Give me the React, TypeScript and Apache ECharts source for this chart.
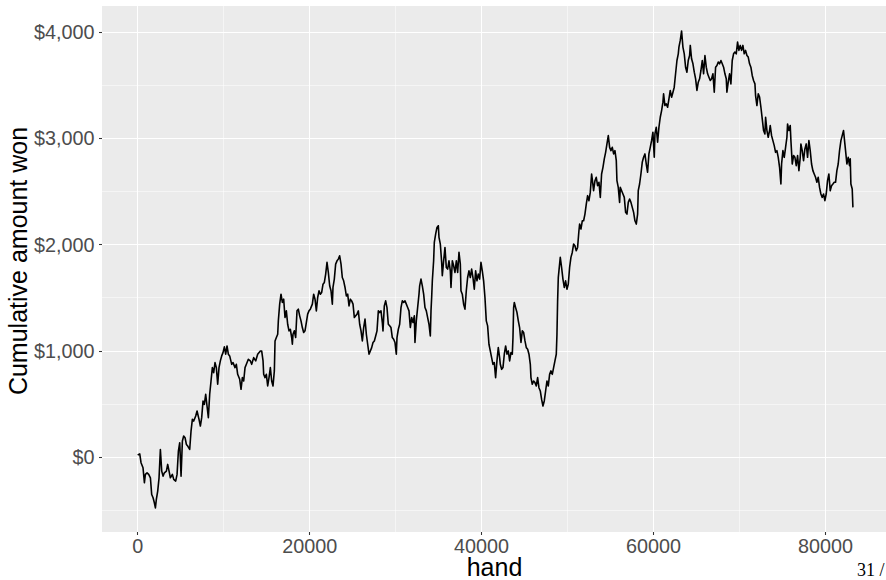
import React, { useEffect, useRef } from 'react';
import * as echarts from 'echarts';

// [hand, cumulative amount won], segment by segment
const seg1 = [[0,20],[240,30],[390,-53],[620,-100],[780,-242],[895,-163],[1090,-148],[1280,-163],[1480,-195],[1630,-352],[1790,-383],[1940,-430],[2060,-478],[2170,-399],[2330,-320],[2485,-195],[2640,72],[2795,-132],[2950,-179],[3105,-148],[3340,-132],[3490,-69],[3650,-132],[3800,-195],[4035,-163],[4190,-210],[4420,-226],[4580,-163],[4735,57],[4890,135],[5045,-179],[5200,151],[5350,198],[5510,182],[5665,119],[5820,104],[6050,72],[6205,245],[6360,355],[6515,339],[6750,386],[6905,434],[7135,355],[7290,292],[7445,371],[7600,528],[7755,496],[7910,591],[8065,481],[8220,371],[8375,591],[8530,716],[8685,842],[8840,795],[8995,889],[9150,842],[9305,685],[9460,842],[9615,905],[9770,952],[9925,983],[10080,1037],[10235,968],[10390,1046],[10545,968],[10700,952],[10935,873],[11090,889],[11320,842],[11475,873],[11630,779],[11865,732],[12020,638],[12175,748],[12330,716],[12485,842],[12640,873],[12870,920],[13105,905],[13260,873],[13490,936],[13725,905],[13955,968],[14270,999]];
const seg2 = [[14420,999],[14580,905],[14655,779],[14810,748],[14965,779],[15120,669],[15275,748],[15430,842],[15585,716],[15740,669],[15895,811],[15975,1093],[16130,1125],[16285,1156],[16360,1282],[16515,1439],[16670,1533],[16825,1455],[16980,1486],[17135,1313],[17290,1376],[17445,1250],[17600,1188],[17755,1203],[17910,1125],[17990,1062],[18065,1156],[18220,1188],[18375,1125],[18530,1376],[18685,1392],[18840,1329],[18995,1282],[19150,1219],[19305,1172],[19460,1188],[19615,1266],[19770,1345],[19925,1376],[20080,1392],[20315,1439],[20470,1533],[20625,1486],[20780,1376],[20935,1502],[21090,1565],[21245,1533],[21400,1549],[21555,1627],[21710,1643],[21865,1722],[22020,1832],[22175,1737],[22330,1612],[22485,1565],[22640,1439],[22715,1596],[22870,1675],[23025,1816],[23185,1847],[23335,1863],[23490,1894],[23650,1816],[23800,1690],[23955,1659],[24115,1596],[24270,1517],[24425,1533],[24580,1423],[24735,1486],[24885,1470],[25045,1439],[25200,1313],[25355,1329],[25510,1345],[25665,1376],[25820,1250],[25975,1188],[26130,1093],[26285,1219],[26440,1298],[26595,1156],[26750,1062],[26905,968],[27060,999],[27215,1030],[27370,1078],[27525,1093],[27680,1140],[27835,1188],[27990,1376],[28145,1360]];
const seg3 = [[28300,1376],[28455,1266],[28530,1188],[28685,1423],[28840,1470],[28995,1407],[29150,1250],[29305,1235],[29460,1219],[29615,1125],[29770,1109],[29925,1078],[30080,968],[30160,1125],[30315,1203],[30470,1250],[30625,1407],[30780,1470],[30935,1455],[31090,1470],[31245,1439],[31400,1407],[31555,1376],[31710,1219],[31865,1313],[32020,1266],[32175,1329],[32250,1078],[32405,1282],[32560,1407],[32720,1533],[32795,1612],[32950,1675],[33105,1612],[33260,1533],[33415,1407],[33570,1376],[33725,1313],[33880,1250],[34035,1140],[34115,1376],[34190,1502],[34270,1659],[34420,1847],[34500,2020],[34655,2099],[34810,2161],[34965,2177],[35045,2067],[35200,2004],[35355,1832],[35430,1706],[35585,1847],[35740,1973],[35895,1784],[36050,1769],[36205,1847],[36360,1753],[36440,1596],[36595,1847],[36750,1800],[36905,1737],[37060,1847],[37215,1737],[37370,1926],[37525,1816],[37600,1565],[37755,1533],[37910,1439],[38065,1392],[38220,1565],[38375,1690],[38530,1753],[38685,1690],[38840,1769],[38995,1690],[39150,1580],[39305,1753],[39460,1659],[39615,1722],[39770,1675],[39925,1832],[40080,1753],[40235,1659],[40390,1502],[40545,1282],[40700,1235],[40855,1062],[41010,999],[41165,936],[41320,873],[41475,889],[41630,748],[41785,905],[41940,1030],[42095,936]];
const seg4 = [[42175,873],[42330,826],[42485,842],[42640,968],[42795,1046],[42950,968],[43105,999],[43260,905],[43415,983],[43570,968],[43650,1125],[43725,1407],[43805,1455],[43955,1407],[44115,1360],[44270,1282],[44420,1219],[44580,1078],[44735,1188],[44890,1172],[45045,1093],[45200,1030],[45355,1015],[45510,968],[45665,873],[45740,748],[45895,685],[46050,716],[46205,701],[46360,669],[46515,748],[46670,653],[46825,622],[46980,543],[47135,481],[47290,528],[47445,622],[47600,716],[47755,669],[47910,779],[48065,811],[48220,779],[48375,842],[48530,905],[48685,968],[48765,1156],[48840,1470],[48920,1690],[48995,1753],[49150,1879],[49305,1784],[49460,1675],[49615,1596],[49770,1659],[49925,1580],[50080,1627],[50235,1784],[50390,1879],[50545,1926],[50700,2004],[50855,1989],[51010,1942],[51165,1973],[51320,2130],[51400,2193],[51555,2146],[51710,2224],[51865,2224],[52020,2287],[52175,2381],[52330,2460],[52485,2413],[52640,2491],[52795,2664],[52870,2617],[53025,2507],[53185,2601],[53335,2633],[53490,2554],[53650,2586],[53805,2444],[53955,2664],[54115,2727],[54270,2806],[54425,2868],[54580,2947],[54735,3025],[54890,2915],[55045,2884],[55200,2915],[55355,2853],[55510,2884],[55665,2790],[55740,2601],[55895,2538],[56050,2397]];
const seg5 = [[56130,2538],[56285,2507],[56440,2476],[56595,2444],[56750,2303],[56905,2287],[57060,2397],[57215,2429],[57370,2397],[57525,2350],[57680,2303],[57835,2224],[57990,2193],[58145,2287],[58220,2507],[58375,2570],[58530,2664],[58685,2774],[58840,2821],[58995,2853],[59150,2758],[59305,2680],[59460,2853],[59615,2915],[59770,2978],[59925,3057],[60080,2821],[60160,3041],[60315,3104],[60470,2963],[60625,3104],[60780,3198],[60935,3261],[61090,3340],[61165,3418],[61320,3308],[61475,3324],[61630,3292],[61790,3371],[61940,3450],[62095,3387],[62255,3434],[62405,3481],[62560,3607],[62720,3732],[62875,3795],[62950,3858],[63105,3921],[63260,4010],[63415,3858],[63570,3795],[63725,3669],[63880,3622],[64035,3732],[64190,3779],[64270,3874],[64420,3748],[64580,3701],[64735,3622],[64890,3560],[65045,3450],[65200,3528],[65355,3560],[65510,3638],[65665,3732],[65820,3607],[65975,3779],[66130,3669],[66285,3607],[66440,3575],[66595,3544],[66750,3560],[66905,3607],[67060,3434],[67215,3669],[67370,3685],[67525,3717],[67680,3701],[67835,3732],[67990,3701],[68145,3669],[68300,3607],[68455,3560],[68530,3434],[68685,3528],[68840,3607],[68995,3512],[69150,3732],[69305,3795],[69460,3811],[69615,3795],[69770,3905],[69925,3827],[70080,3874]];
const seg6 = [[70235,3827],[70390,3874],[70545,3795],[70700,3827],[70860,3779],[71010,3764],[71165,3701],[71320,3669],[71475,3591],[71630,3544],[71790,3512],[71865,3402],[72020,3308],[72175,3418],[72330,3387],[72485,3292],[72640,3183],[72795,3073],[72950,3041],[73030,3198],[73185,3073],[73335,3010],[73490,3073],[73570,3120],[73725,3025],[73880,2978],[74035,2931],[74190,2868],[74345,2884],[74500,2821],[74655,2727],[74810,2570],[74890,2758],[75045,2884],[75200,2821],[75355,2915],[75510,3010],[75585,3135],[75740,3073],[75895,3120],[75975,2978],[76130,2758],[76285,2837],[76440,2821],[76595,2743],[76750,2837],[76905,2696],[77060,2821],[77135,2947],[77290,2884],[77445,2790],[77600,2900],[77755,2947],[77910,2821],[78065,2978],[78220,2884],[78375,2758],[78530,2696],[78685,2664],[78840,2633],[78995,2586],[79150,2633],[79305,2538],[79460,2476],[79615,2444],[79770,2476],[79925,2413],[80080,2476],[80235,2601],[80390,2664],[80545,2507],[80700,2554],[80860,2570],[81010,2586],[81165,2586],[81320,2696],[81475,2758],[81630,2884],[81790,2978],[81940,3025],[82095,3073],[82250,2947],[82330,2884],[82485,2758],[82640,2821],[82795,2743],[82875,2806],[82950,2570],[83105,2523],[83185,2350]];

const xMajorTicks = [0, 20000, 40000, 60000, 80000];
const xMinorTicks = [10000, 30000, 50000, 70000];
const yMajorTicks = [0, 1000, 2000, 3000, 4000];
const yMinorTicks = [-500, 500, 1500, 2500, 3500];
const xTitle = 'hand';
const yTitle = 'Cumulative amount won';
const pageLabel = '31 /';

export default function App() {
  const ref = useRef<HTMLDivElement>(null);
  useEffect(() => {
    document.body.style.margin = '0';
    const chart = echarts.init(ref.current as HTMLDivElement, null, { renderer: 'svg' });
    const data = [...seg1, ...seg2, ...seg3, ...seg4, ...seg5, ...seg6];
    const ff = '"Liberation Sans", Arial, Helvetica, sans-serif';
    const xRange = { type: 'value', min: -4150, max: 87150, axisLine: { show: false, onZero: false } };
    const yRange = { type: 'value', min: -705, max: 4245, axisLine: { show: false, onZero: false } };
    chart.setOption({
      animation: false,
      grid: {
        left: 102, top: 6, width: 785, height: 526,
        show: true, backgroundColor: '#EBEBEB', borderWidth: 0,
        containLabel: false, outerBoundsMode: 'none',
      },
      xAxis: [
        {
          ...xRange,
          position: 'bottom',
          name: xTitle, nameLocation: 'middle', nameGap: 24.5, nameMoveOverlap: false,
          nameTextStyle: { color: '#000', fontSize: 25, lineHeight: 20, fontFamily: ff },
          axisTick: { show: true, length: 3, lineStyle: { color: '#333', width: 1.07 }, customValues: xMajorTicks },
          axisLabel: { customValues: xMajorTicks, color: '#4D4D4D', fontSize: 19.8, lineHeight: 19.8, fontFamily: ff, margin: 4.5, formatter: (v: number) => String(v) },
          splitLine: { show: true, lineStyle: { color: '#FFFFFF', width: 1.07 } },
          z: 1,
        },
        {
          ...xRange,
          position: 'top',
          axisTick: { show: false, customValues: xMinorTicks },
          axisLabel: { show: false, customValues: xMinorTicks },
          splitLine: { show: true, lineStyle: { color: '#FFFFFF', width: 0.53 } },
          z: 0,
        },
      ],
      yAxis: [
        {
          ...yRange,
          position: 'left',
          name: yTitle, nameLocation: 'middle', nameGap: 71.5, nameRotate: 90, nameMoveOverlap: false,
          nameTextStyle: { color: '#000', fontSize: 25, fontFamily: ff, padding: [0, 0, 0, 16] },
          axisTick: { show: true, length: 3, lineStyle: { color: '#333', width: 1.07 }, customValues: yMajorTicks },
          axisLabel: {
            customValues: yMajorTicks, color: '#4D4D4D', fontSize: 19.8, fontFamily: ff, margin: 7.5,
            formatter: (v: number) => '$' + v.toLocaleString('en-US'),
          },
          splitLine: { show: true, lineStyle: { color: '#FFFFFF', width: 1.07 } },
          z: 1,
        },
        {
          ...yRange,
          position: 'right',
          axisTick: { show: false, customValues: yMinorTicks },
          axisLabel: { show: false, customValues: yMinorTicks },
          splitLine: { show: true, lineStyle: { color: '#FFFFFF', width: 0.53 } },
          z: 0,
        },
      ],
      series: [
        {
          type: 'line',
          xAxisIndex: 0,
          yAxisIndex: 0,
          data,
          symbol: 'none',
          showSymbol: false,
          silent: true,
          clip: true,
          z: 5,
          lineStyle: { color: '#000000', width: 1.6, join: 'round' },
        },
      ],
      graphic: [
        {
          type: 'text',
          left: 857,
          top: 561,
          silent: true,
          style: { text: pageLabel, font: '18px "Liberation Serif", "DejaVu Serif", serif', fill: '#000' },
        },
      ],
    });
    return () => chart.dispose();
  }, []);
  return <div ref={ref} style={{ position: 'absolute', left: 0, top: 0, width: 886, height: 580 }} />;
}
